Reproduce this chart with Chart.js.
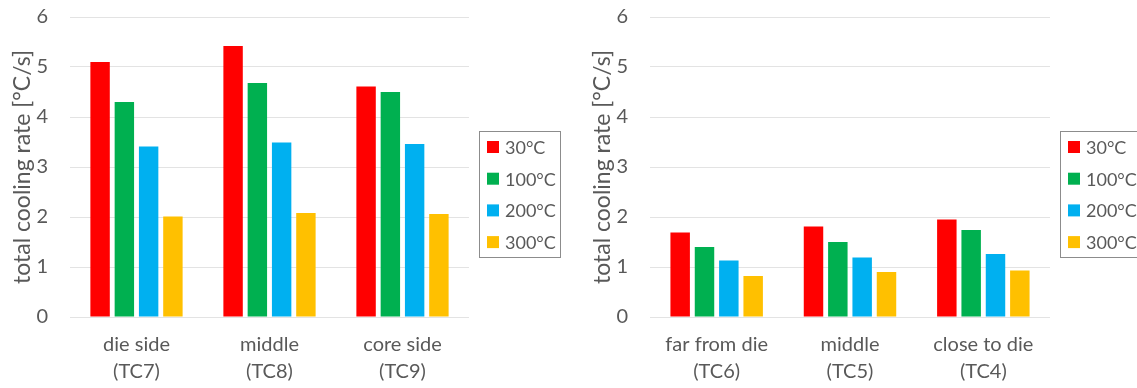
<!DOCTYPE html>
<html>
<head>
<meta charset="utf-8">
<script src="https://cdn.jsdelivr.net/npm/chart.js@4/dist/chart.umd.min.js"></script>
<style>
html,body{margin:0;padding:0;background:#fff;}
#wrap{position:relative;width:1137px;height:388px;overflow:hidden;}
#c1{position:absolute;left:0;top:-17px;}
#c2{position:absolute;left:580px;top:-17px;}
</style>
</head>
<body>
<div id="wrap">
<canvas id="c1" width="570" height="405"></canvas>
<canvas id="c2" width="557" height="405"></canvas>
</div>
<script>
// ---- data ----
const categoriesLeft = [['die side','(TC7)'],['middle','(TC8)'],['core side','(TC9)']];
const categoriesRight = [['far from die','(TC6)'],['middle','(TC5)'],['close to die','(TC4)']];
const seriesNames = ['30°C','100°C','200°C','300°C'];
const left30  = [5.10, 5.42, 4.61];
const left100 = [4.30, 4.68, 4.50];
const left200 = [3.41, 3.49, 3.46];
const left300 = [2.01, 2.08, 2.06];
const right30  = [1.69, 1.81, 1.95];
const right100 = [1.40, 1.50, 1.74];
const right200 = [1.13, 1.19, 1.26];
const right300 = [0.82, 0.90, 0.93];
const yMin = 0, yMax = 6, yStep = 1;
const yTitle = 'total cooling rate [°C/s]';

// ---- styles ----
const colors = ['#FF0000','#00B050','#00B0F0','#FFC000'];
const FONT = 'Lato, "Open Sans", sans-serif';
const TXT = '#595959';
const SHIFT = 17;

const boxLegend = {
  id:'boxLegend',
  afterDraw(chart){
    const ctx = chart.ctx;
    const ca = chart.chartArea;
    const x0 = ca.right + 10, y0 = 131 + SHIFT, w = 81, h = 126;
    ctx.save();
    ctx.strokeStyle = '#8c8c8c';
    ctx.lineWidth = 1;
    ctx.strokeRect(Math.round(x0)+0.5, y0+0.5, w, h);
    ctx.font = '18px ' + FONT;
    ctx.textBaseline = 'middle';
    chart.data.datasets.forEach((ds,i)=>{
      const cy = y0 + 16 + i*31.7;
      ctx.fillStyle = ds.backgroundColor;
      ctx.fillRect(x0+8, cy-6, 12, 12);
      ctx.fillStyle = TXT;
      ctx.fillText(ds.label, x0+26, cy+1);
    });
    ctx.restore();
  }
};

function makeChart(id, cats, series, rightPad){
  return new Chart(document.getElementById(id), {
    type:'bar',
    data:{
      labels: cats,
      datasets: series.map((d,i)=>({
        label: seriesNames[i],
        data: d,
        backgroundColor: colors[i],
        borderWidth: 0,
        barPercentage: 0.8,
        categoryPercentage: 0.73
      }))
    },
    options:{
      responsive:false,
      animation:false,
      layout:{padding:{top:0,right:rightPad,left:0,bottom:0}},
      plugins:{legend:{display:false},tooltip:{enabled:false}},
      scales:{
        x:{
          grid:{display:false,drawTicks:false},
          border:{display:false},
          ticks:{color:TXT,font:{family:FONT,size:20,lineHeight:1.35},padding:14,maxRotation:0,autoSkip:false},
          afterFit(s){ s.height = 71; }
        },
        y:{
          min:yMin,max:yMax,
          grid:{color:'#e3e3e3',lineWidth:1,drawTicks:false},
          border:{display:false},
          ticks:{stepSize:yStep,color:TXT,font:{family:FONT,size:20},padding:22},
          title:{display:true,text:yTitle,color:TXT,font:{family:FONT,size:23,lineHeight:1.2},padding:{top:9,bottom:0}},
          afterFit(s){ s.width = 70; }
        }
      }
    },
    plugins:[boxLegend]
  });
}

makeChart('c1', categoriesLeft, [left30,left100,left200,left300], 101);
makeChart('c2', categoriesRight, [right30,right100,right200,right300], 87);
</script>
</body>
</html>
